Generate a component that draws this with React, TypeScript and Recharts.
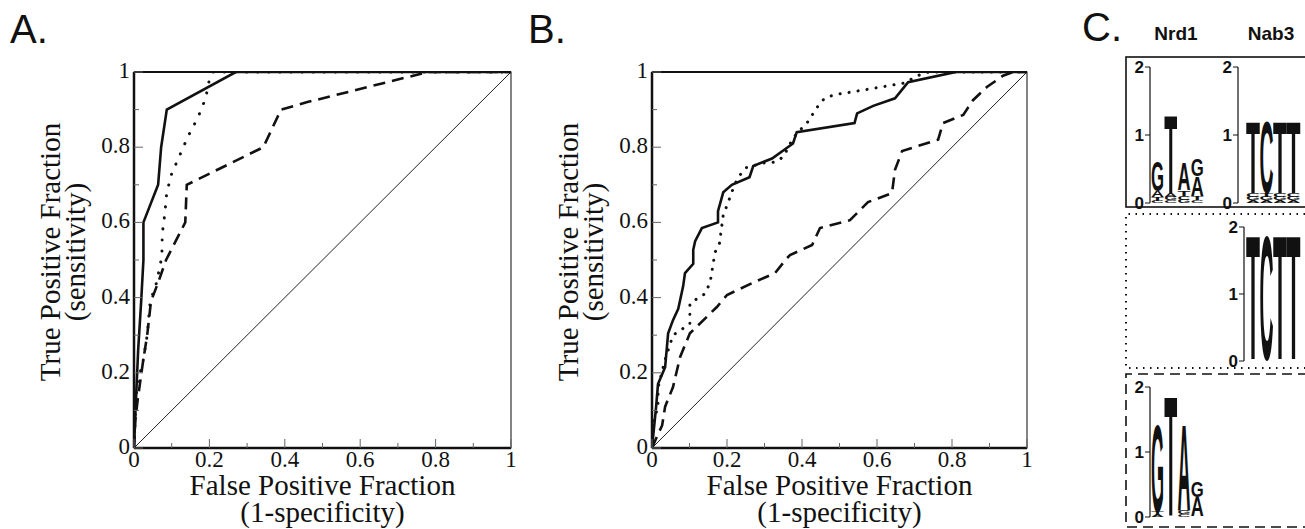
import React from 'react';
import {
  LineChart,
  Line,
  XAxis,
  YAxis,
  ReferenceArea,
  ReferenceLine,
  Label,
  BarChart,
  Bar
} from 'recharts';

const serif = '"Liberation Serif", "Times New Roman", serif';
const sans = '"Liberation Sans", Arial, sans-serif';

// ROC axes
const rocTicks = [0, 0.1, 0.2, 0.3, 0.4, 0.5, 0.6, 0.7, 0.8, 0.9, 1];
const rocTickLabels = ['0', '', '0.2', '', '0.4', '', '0.6', '', '0.8', '', '1'];

// Panel A
const aSolidFpr = [0, 0.004, 0.011, 0.019, 0.025, 0.025, 0.064, 0.072, 0.087, 0.27, 1];
const aSolidTpr = [0, 0.1, 0.26, 0.39, 0.5, 0.6, 0.7, 0.8, 0.9, 1, 1];
const aDotFpr = [0, 0.004, 0.008, 0.024, 0.035, 0.043, 0.06, 0.074, 0.075, 0.082, 0.087, 0.1, 0.122, 0.144, 0.17, 0.19, 0.2, 0.21, 1];
const aDotTpr = [0, 0.1, 0.17, 0.23, 0.3, 0.39, 0.44, 0.51, 0.57, 0.625, 0.68, 0.73, 0.78, 0.83, 0.88, 0.93, 0.98, 1, 1];
const aDashFpr = [0, 0.003, 0.01, 0.024, 0.035, 0.045, 0.064, 0.085, 0.136, 0.14, 0.343, 0.39, 0.46, 0.78, 1];
const aDashTpr = [0, 0.07, 0.13, 0.23, 0.3, 0.39, 0.44, 0.5, 0.6, 0.7, 0.8, 0.9, 0.92, 1, 1];

// Panel B
const bSolidFpr = [0, 0.003, 0.011, 0.016, 0.035, 0.043, 0.056, 0.07, 0.083, 0.088, 0.11, 0.11, 0.115, 0.133, 0.176, 0.176, 0.19, 0.213, 0.26, 0.27, 0.32, 0.376, 0.386, 0.54, 0.547, 0.59, 0.648, 0.683, 0.795, 0.81, 1];
const bSolidTpr = [0, 0.03, 0.11, 0.17, 0.215, 0.305, 0.34, 0.37, 0.43, 0.465, 0.49, 0.527, 0.55, 0.585, 0.6, 0.63, 0.68, 0.7, 0.72, 0.75, 0.77, 0.81, 0.84, 0.864, 0.89, 0.91, 0.93, 0.973, 0.997, 1, 1];
const bDotFpr = [0, 0.003, 0.016, 0.016, 0.035, 0.056, 0.101, 0.101, 0.141, 0.155, 0.168, 0.18, 0.19, 0.2, 0.22, 0.23, 0.25, 0.296, 0.328, 0.35, 0.376, 0.395, 0.413, 0.43, 0.443, 0.46, 0.488, 0.515, 0.67, 0.723, 0.74, 1];
const bDotTpr = [0, 0.066, 0.11, 0.16, 0.235, 0.3, 0.33, 0.385, 0.41, 0.44, 0.52, 0.545, 0.62, 0.645, 0.7, 0.72, 0.745, 0.758, 0.76, 0.774, 0.824, 0.846, 0.864, 0.89, 0.91, 0.93, 0.94, 0.944, 0.97, 0.997, 1, 1];
const bDashFpr = [0, 0.013, 0.027, 0.035, 0.056, 0.075, 0.101, 0.173, 0.2, 0.27, 0.328, 0.36, 0.368, 0.427, 0.448, 0.528, 0.576, 0.64, 0.648, 0.667, 0.763, 0.776, 0.83, 0.856, 0.893, 0.936, 0.963, 1];
const bDashTpr = [0, 0.03, 0.06, 0.11, 0.162, 0.242, 0.305, 0.375, 0.407, 0.44, 0.465, 0.505, 0.513, 0.54, 0.585, 0.606, 0.654, 0.678, 0.74, 0.79, 0.82, 0.864, 0.886, 0.925, 0.96, 0.99, 1, 1];

// Panel C sequence logos (letters bottom -> top, heights in bits)
const row1Nrd1Letters = [['C', 'T', 'A', 'G'], ['C', 'G', 'A', 'T'], ['G', 'C', 'T', 'A'], ['C', 'T', 'A', 'G']];
const row1Nrd1Bits = [[0.03, 0.06, 0.09, 0.45], [0.04, 0.05, 0.06, 1.17], [0.05, 0.06, 0.08, 0.4], [0.04, 0.06, 0.3, 0.25]];
const row1Nab3Letters = [['A', 'G', 'C', 'T'], ['A', 'G', 'T', 'C'], ['A', 'G', 'C', 'T'], ['A', 'G', 'C', 'T']];
const row1Nab3Bits = [[0.04, 0.05, 0.06, 1.07], [0.04, 0.05, 0.06, 1.07], [0.04, 0.05, 0.06, 1.07], [0.04, 0.05, 0.06, 1.07]];
const row2Nab3Letters = [['A', 'G', 'T'], ['A', 'G', 'C'], ['A', 'G', 'T'], ['A', 'G', 'T']];
const row2Nab3Bits = [[0.01, 0.02, 1.88], [0.01, 0.02, 1.88], [0.01, 0.02, 1.88], [0.01, 0.02, 1.88]];
const row3Nrd1Letters = [['A', 'T', 'G'], ['C', 'A', 'T'], ['C', 'G', 'A'], ['T', 'A', 'G']];
const row3Nrd1Bits = [[0.04, 0.04, 1.37], [0.01, 0.01, 1.88], [0.04, 0.06, 1.35], [0.01, 0.3, 0.25]];
const logoTicks = [0, 1, 2];

const toPoints = (xs: number[], ys: number[]) => xs.map((x, i) => ({ x, y: ys[i] }));

function RocTickX(props: any) {
  const { x, y, index } = props;
  const label = rocTickLabels[index];
  return (
    <g>
      <line x1={x} x2={x} y1={y} y2={y - (label ? 9 : 5)} stroke="#666" strokeWidth={1} />
      {label && (
        <text x={x} y={y + 19} textAnchor="middle" fontFamily={serif} fontSize={23} fill="#111">
          {label}
        </text>
      )}
    </g>
  );
}

function RocTickY(props: any) {
  const { x, y, index } = props;
  const label = rocTickLabels[index];
  return (
    <g>
      <line x1={x} x2={x + (label ? 9 : 5)} y1={y} y2={y} stroke="#666" strokeWidth={1} />
      {label && (
        <text x={x - 4} y={y + 6} textAnchor="end" fontFamily={serif} fontSize={23} fill="#111">
          {label}
        </text>
      )}
    </g>
  );
}

const xTitle = (props: any) => {
  const vb = props.viewBox;
  const cx = vb.x + vb.width / 2;
  return (
    <text textAnchor="middle" fontFamily={serif} fontSize={29} fill="#111">
      <tspan x={cx} y={vb.y + 47}>False Positive Fraction</tspan>
      <tspan x={cx} y={vb.y + 74}>(1-specificity)</tspan>
    </text>
  );
};

const yTitle = (props: any) => {
  const vb = props.viewBox;
  const cy = vb.y + vb.height / 2 - 8;
  return (
    <g fontFamily={serif} fontSize={29} fill="#111">
      <text transform={`translate(${vb.x + 60},${cy}) rotate(-90)`} textAnchor="middle">
        True Positive Fraction
      </text>
      <text transform={`translate(${vb.x + 85},${cy}) rotate(-90)`} textAnchor="middle">
        (sensitivity)
      </text>
    </g>
  );
};

function RocPanel({ left, rightMargin, solid, dotted, dashed, dotGap }: any) {
  return (
    <div style={{ position: 'absolute', left, top: 0 }}>
      <LineChart width={530} height={529} margin={{ top: 72, right: rightMargin, bottom: 0, left: 0 }}>
        <XAxis
          type="number"
          dataKey="x"
          domain={[0, 1]}
          ticks={rocTicks}
          interval={0}
          height={81}
          tickSize={0}
          tickMargin={0}
          tick={<RocTickX />}
          axisLine={{ stroke: '#111', strokeWidth: 2.5 }}
          tickLine={false}
          allowDataOverflow
        >
          <Label content={xTitle} />
        </XAxis>
        <YAxis
          type="number"
          dataKey="y"
          domain={[0, 1]}
          ticks={rocTicks}
          interval={0}
          width={134}
          tickSize={0}
          tickMargin={0}
          tick={<RocTickY />}
          axisLine={{ stroke: '#111', strokeWidth: 2.5 }}
          tickLine={false}
          allowDataOverflow
        >
          <Label content={yTitle} />
        </YAxis>
        <ReferenceArea x1={0} x2={1} y1={0} y2={1} fill="none" stroke="#333" strokeWidth={1.2} fillOpacity={0} />
        <ReferenceLine y={1} stroke="#111" strokeWidth={2} />
        <ReferenceLine segment={[{ x: 0, y: 0 }, { x: 1, y: 1 }]} stroke="#222" strokeWidth={1} />
        <Line data={dashed} dataKey="y" type="linear" stroke="#111" strokeWidth={2.6} strokeDasharray="12 7" dot={false} isAnimationActive={false} />
        <Line data={dotted} dataKey="y" type="linear" stroke="#111" strokeWidth={3} strokeDasharray={`0.1 ${dotGap}`} strokeLinecap="round" dot={false} isAnimationActive={false} />
        <Line data={solid} dataKey="y" type="linear" stroke="#111" strokeWidth={2.6} dot={false} isAnimationActive={false} />
      </LineChart>
    </div>
  );
}

function Glyph(props: any) {
  const { x, y, width, height, letter } = props;
  // letters thinner than ~1.5px are not visible in the logo
  if (!letter || !height || height < 1.5) return <g />;
  const fs = 100;
  const sy = height / (0.716 * fs);
  return (
    <text
      transform={`translate(${x},${y + height}) scale(1,${sy})`}
      fontSize={fs}
      fontFamily={sans}
      fontWeight="bold"
      fill="#111"
      textLength={width}
      lengthAdjust="spacingAndGlyphs"
    >
      {letter}
    </text>
  );
}

function Logo({ letters, bits, left, top, plotW, plotH, padLeft }: any) {
  const rows = bits.map((b: number[], i: number) => ({
    pos: i,
    s0: b[0] ?? 0,
    s1: b[1] ?? 0,
    s2: b[2] ?? 0,
    s3: b[3] ?? 0
  }));
  const yw = 22;
  const pad = 36;
  const keys = ['s0', 's1', 's2', 's3'];
  return (
    <div style={{ position: 'absolute', left: left - yw, top: top - pad }}>
      <BarChart
        width={yw + plotW + 2}
        height={plotH + pad * 2}
        data={rows}
        margin={{ top: pad, right: 2, bottom: pad, left: 0 }}
        barCategoryGap={0}
        barGap={0}
      >
        <XAxis dataKey="pos" hide padding={{ left: padLeft, right: 0 }} />
        <YAxis
          type="number"
          domain={[0, 2]}
          ticks={logoTicks}
          interval={0}
          width={yw}
          tickSize={5}
          tickMargin={1}
          tick={{ fontFamily: sans, fontWeight: 'bold', fontSize: 17, fill: '#111' }}
          axisLine={{ stroke: '#111', strokeWidth: 1.2 }}
          tickLine={{ stroke: '#111' }}
          allowDataOverflow
        />
        {keys.map((k, ki) => (
          <Bar
            key={k}
            dataKey={k}
            stackId="logo"
            isAnimationActive={false}
            shape={(p: any) => <Glyph {...p} letter={letters[p.index]?.[ki]} />}
          />
        ))}
      </BarChart>
    </div>
  );
}

export default function App() {
  return (
    <div
      style={{
        position: 'absolute',
        left: 0,
        top: 0,
        width: 1305,
        height: 529,
        background: '#fff',
        overflow: 'hidden'
      }}
    >
      <RocPanel
        left={0}
        rightMargin={19}
        solid={toPoints(aSolidFpr, aSolidTpr)}
        dotted={toPoints(aDotFpr, aDotTpr)}
        dashed={toPoints(aDashFpr, aDashTpr)}
        dotGap={11}
      />
      <RocPanel
        left={518}
        rightMargin={21}
        solid={toPoints(bSolidFpr, bSolidTpr)}
        dotted={toPoints(bDotFpr, bDotTpr)}
        dashed={toPoints(bDashFpr, bDashTpr)}
        dotGap={9}
      />

      <Logo letters={row1Nrd1Letters} bits={row1Nrd1Bits} left={1150} top={67} plotW={54} plotH={136} padLeft={1} />
      <Logo letters={row1Nab3Letters} bits={row1Nab3Bits} left={1238} top={67} plotW={62} plotH={136} padLeft={8} />
      <Logo letters={row2Nab3Letters} bits={row2Nab3Bits} left={1244} top={227} plotW={56} plotH={134} padLeft={2} />
      <Logo letters={row3Nrd1Letters} bits={row3Nrd1Bits} left={1150} top={387} plotW={54} plotH={130} padLeft={1} />

      <svg width={1305} height={529} style={{ position: 'absolute', left: 0, top: 0, pointerEvents: 'none' }}>
        <text x={10} y={43} fontFamily={sans} fontSize={40} fill="#111">A.</text>
        <text x={528} y={43} fontFamily={sans} fontSize={40} fill="#111">B.</text>
        <text x={1082} y={41} fontFamily={sans} fontSize={40} fill="#111">C.</text>
        <text x={1176} y={40} textAnchor="middle" fontFamily={sans} fontWeight="bold" fontSize={19} fill="#111">Nrd1</text>
        <text x={1271} y={40} textAnchor="middle" fontFamily={sans} fontWeight="bold" fontSize={19} fill="#111">Nab3</text>
        <rect x={1126} y={57} width={200} height={150} fill="none" stroke="#111" strokeWidth={1.6} />
        <path d="M1340 214 H1126 V368 H1340" fill="none" stroke="#111" strokeWidth={2} strokeDasharray="1.5 5.5" />
        <path d="M1340 374 H1126 V527 H1340" fill="none" stroke="#111" strokeWidth={1.6} strokeDasharray="10 6" />
      </svg>
    </div>
  );
}
